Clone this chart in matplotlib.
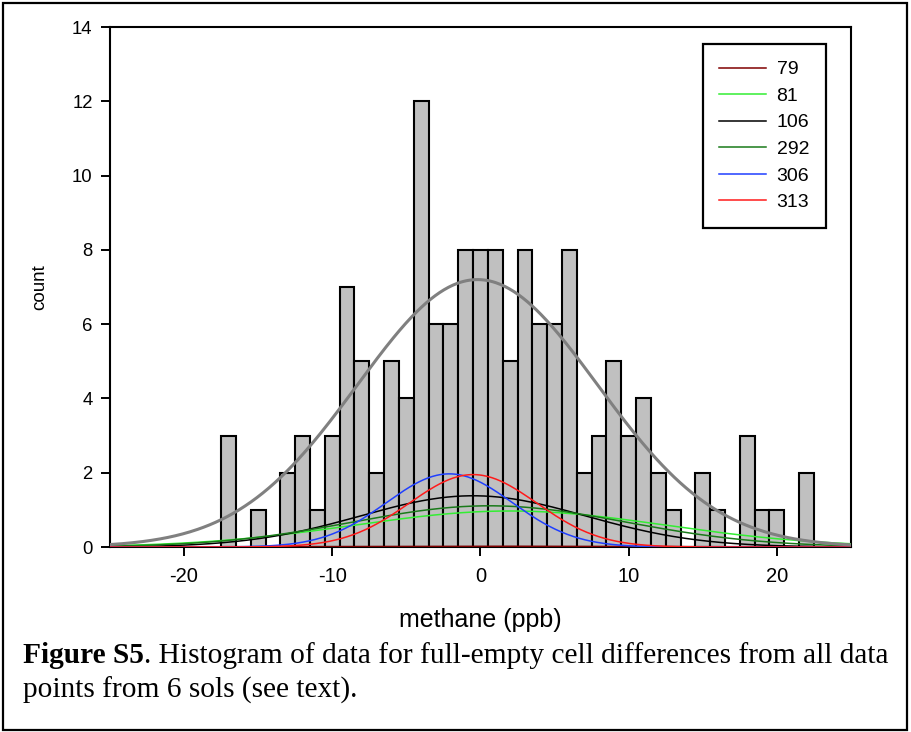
import numpy as np
import matplotlib
matplotlib.use("Agg")
import matplotlib.pyplot as plt
from matplotlib.patches import Rectangle

# histogram: bin centres (ppb) and counts
bin_centers = [-17, -16, -15, -14, -13, -12, -11, -10, -9, -8, -7, -6, -5, -4, -3, -2, -1,
               0, 1, 2, 3, 4, 5, 6, 7, 8, 9, 10, 11, 12, 13, 14, 15, 16, 17, 18, 19, 20, 21, 22]
counts = [3, 0, 1, 0, 2, 3, 1, 3, 7, 5, 2, 5, 4, 12, 6, 6, 8,
          8, 8, 5, 8, 6, 6, 8, 2, 3, 5, 3, 4, 2, 1, 0, 2, 1, 0, 3, 1, 1, 0, 2]

# gaussian fit to all data (grey)
all_mean, all_sd, all_peak = -0.2, 8.1, 7.2

# gaussian fits per sol
sol_labels = ["79", "81", "106", "292", "306", "313"]
sol_colors = ["#800000", "#33ee33", "#000000", "#1a7a1a", "#1f3fff", "#ff1a1a"]
sol_means = [0.0, 2.0, -0.5, 0.6, -2.1, -0.5]
sol_sds = [10.0, 10.5, 7.6, 9.2, 4.25, 4.3]
sol_peaks = [0.02, 0.97, 1.38, 1.11, 1.97, 1.95]

plt.rcParams["font.family"] = ["Liberation Sans", "DejaVu Sans"]
plt.rcParams["font.size"] = 13
plt.rcParams["axes.unicode_minus"] = False

fig = plt.figure(figsize=(9.11, 7.32), dpi=100)
ax = fig.add_axes([0.1207, 0.2527, 0.8134, 0.7104])

ax.bar(bin_centers, counts, width=1.0, color="#c0c0c0", edgecolor="black", linewidth=1.5, zorder=2)

x = np.linspace(-25, 25, 500)
for label, color, mu, sd, peak in zip(sol_labels, sol_colors, sol_means, sol_sds, sol_peaks):
    ax.plot(x, peak * np.exp(-(x - mu) ** 2 / (2 * sd ** 2)), color=color, lw=1.1, label=label, zorder=3)
ax.plot(x, all_peak * np.exp(-(x - all_mean) ** 2 / (2 * all_sd ** 2)), color="#808080", lw=2.2, zorder=4)

ax.set_xlim(-25, 25)
ax.set_ylim(0, 14)
ax.set_xticks([-20, -10, 0, 10, 20])
ax.set_yticks(range(0, 15, 2))
ax.tick_params(direction="out", length=6.5, width=1.4)
ax.tick_params(axis="x", pad=8, labelsize=14.5)
ax.tick_params(axis="y", pad=6, labelsize=13.3)
for s in ax.spines.values():
    s.set_linewidth(1.5)

ax.set_xlabel("methane (ppb)", fontsize=18, labelpad=16)
ax.set_ylabel("count", fontsize=13.5, labelpad=17)

leg = ax.legend(loc="upper right", bbox_to_anchor=(0.966, 0.967), borderaxespad=0,
                fancybox=False, framealpha=1, edgecolor="black", handlelength=2.4,
                handletextpad=0.55, labelspacing=0.46, borderpad=0.85, fontsize=14)
leg.get_frame().set_linewidth(1.6)

# caption
cap = fig.text(23 / 911, 1 - 663 / 732, "Figure S5", fontsize=21.2, fontweight="bold",
               family="Liberation Serif", va="baseline")
fig.canvas.draw()
plt.annotate(". Histogram of data for full-empty cell differences from all data",
             xy=(1, 0), xycoords=cap, xytext=(0, 0), textcoords="offset points",
             fontsize=21.2, family="Liberation Serif", va="bottom", ha="left")
fig.text(23 / 911, 1 - 698 / 732, "points from 6 sols (see text).", fontsize=21.2,
         family="Liberation Serif", va="baseline")

# outer border
fig.patches.append(Rectangle((3 / 911, 2 / 732), 904 / 911, 727 / 732, transform=fig.transFigure,
                             fill=False, edgecolor="black", linewidth=1.6))

fig.savefig("out.png", dpi=100)
